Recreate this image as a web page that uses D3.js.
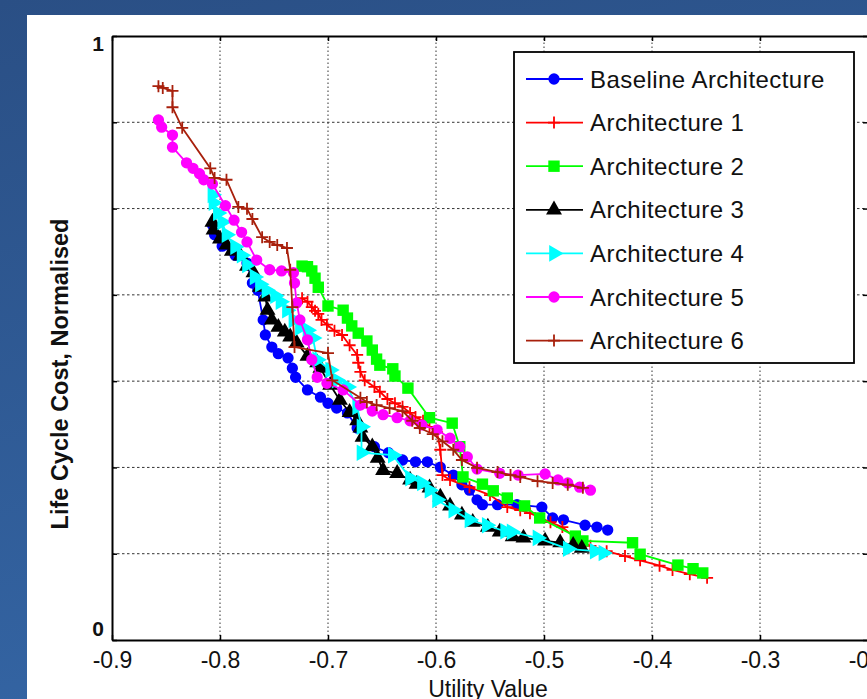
<!DOCTYPE html>
<html><head><meta charset="utf-8">
<script src="https://cdn.jsdelivr.net/npm/d3@7"></script>
<style>html,body{margin:0;padding:0;overflow:hidden;background:#2e5a92}</style>
</head><body>
<script>
// ---- data ----
const xTicks = [-0.9,-0.8,-0.7,-0.6,-0.5,-0.4,-0.3,-0.2];
const yTicks = [0,1/7,2/7,3/7,4/7,5/7,6/7,1];
const yTickLabels = ["0","","","","","","","1"];
const seriesNames = ["Baseline Architecture","Architecture 1","Architecture 2","Architecture 3","Architecture 4","Architecture 5","Architecture 6"];

const baselineX = [-0.807,-0.805,-0.798,-0.786,-0.775,-0.770,-0.765,-0.760,-0.758,-0.752,-0.746,-0.737,-0.733,-0.730,-0.719,-0.707,-0.700,-0.692,-0.682,-0.673,-0.657,-0.644,-0.631,-0.619,-0.608,-0.596,-0.584,-0.576,-0.569,-0.562,-0.557,-0.543,-0.525,-0.502,-0.492,-0.482,-0.462,-0.451,-0.441];
const baselineY = [0.687,0.671,0.652,0.637,0.624,0.591,0.579,0.530,0.505,0.485,0.474,0.467,0.450,0.435,0.414,0.402,0.392,0.384,0.376,0.351,0.320,0.310,0.298,0.295,0.295,0.286,0.273,0.257,0.248,0.232,0.224,0.224,0.224,0.220,0.202,0.199,0.190,0.187,0.182];

const arch1X = [-0.724,-0.719,-0.715,-0.712,-0.709,-0.706,-0.701,-0.694,-0.687,-0.680,-0.673,-0.672,-0.670,-0.666,-0.657,-0.652,-0.645,-0.638,-0.631,-0.624,-0.619,-0.612,-0.606,-0.599,-0.596,-0.594,-0.587,-0.569,-0.550,-0.534,-0.522,-0.513,-0.494,-0.483,-0.469,-0.457,-0.442,-0.425,-0.411,-0.393,-0.381,-0.365,-0.349];
const arch1Y = [0.566,0.560,0.551,0.545,0.540,0.530,0.522,0.512,0.505,0.488,0.472,0.459,0.444,0.430,0.419,0.411,0.399,0.392,0.386,0.376,0.369,0.363,0.353,0.344,0.315,0.273,0.265,0.253,0.240,0.220,0.215,0.210,0.195,0.187,0.166,0.156,0.147,0.139,0.132,0.123,0.116,0.109,0.103];

const arch2X = [-0.724,-0.719,-0.715,-0.712,-0.709,-0.700,-0.686,-0.682,-0.678,-0.672,-0.664,-0.659,-0.655,-0.652,-0.640,-0.638,-0.626,-0.606,-0.585,-0.578,-0.575,-0.557,-0.547,-0.534,-0.518,-0.504,-0.471,-0.464,-0.418,-0.411,-0.376,-0.362,-0.353];
const arch2Y = [0.619,0.618,0.611,0.599,0.584,0.553,0.546,0.533,0.520,0.508,0.495,0.480,0.465,0.455,0.449,0.437,0.417,0.368,0.359,0.320,0.270,0.258,0.247,0.235,0.222,0.202,0.172,0.164,0.161,0.142,0.124,0.118,0.111];

const arch3X = [-0.807,-0.806,-0.800,-0.794,-0.789,-0.781,-0.775,-0.769,-0.763,-0.758,-0.756,-0.752,-0.746,-0.740,-0.735,-0.729,-0.719,-0.710,-0.707,-0.698,-0.689,-0.680,-0.673,-0.670,-0.668,-0.659,-0.654,-0.649,-0.636,-0.624,-0.618,-0.606,-0.596,-0.587,-0.576,-0.566,-0.552,-0.541,-0.529,-0.519,-0.499,-0.485,-0.473,-0.465];
const arch3Y = [0.692,0.679,0.664,0.654,0.644,0.636,0.619,0.608,0.584,0.568,0.546,0.530,0.518,0.510,0.502,0.492,0.470,0.459,0.450,0.422,0.397,0.377,0.363,0.351,0.336,0.320,0.301,0.281,0.276,0.265,0.258,0.252,0.237,0.222,0.207,0.195,0.187,0.179,0.171,0.169,0.164,0.161,0.157,0.152];

const arch4X = [-0.807,-0.806,-0.802,-0.798,-0.794,-0.786,-0.780,-0.775,-0.768,-0.763,-0.757,-0.749,-0.744,-0.738,-0.732,-0.726,-0.719,-0.714,-0.710,-0.698,-0.692,-0.682,-0.673,-0.669,-0.669,-0.640,-0.624,-0.613,-0.606,-0.599,-0.584,-0.569,-0.553,-0.536,-0.530,-0.506,-0.478,-0.453,-0.445];
const arch4Y = [0.737,0.724,0.707,0.692,0.671,0.651,0.637,0.621,0.601,0.589,0.579,0.570,0.560,0.546,0.530,0.517,0.513,0.500,0.464,0.447,0.430,0.419,0.386,0.353,0.310,0.306,0.268,0.260,0.248,0.232,0.215,0.199,0.190,0.180,0.179,0.169,0.151,0.147,0.144];

const arch5X = [-0.857,-0.854,-0.844,-0.844,-0.831,-0.825,-0.819,-0.815,-0.807,-0.795,-0.787,-0.780,-0.775,-0.766,-0.754,-0.743,-0.732,-0.731,-0.729,-0.726,-0.719,-0.715,-0.710,-0.701,-0.686,-0.670,-0.659,-0.649,-0.636,-0.624,-0.613,-0.599,-0.587,-0.578,-0.571,-0.562,-0.541,-0.524,-0.499,-0.487,-0.478,-0.467,-0.457];
const arch5Y = [0.861,0.849,0.836,0.816,0.790,0.781,0.772,0.762,0.755,0.719,0.695,0.675,0.659,0.629,0.613,0.611,0.608,0.591,0.558,0.530,0.497,0.464,0.435,0.425,0.414,0.389,0.379,0.373,0.368,0.363,0.356,0.348,0.334,0.320,0.303,0.283,0.276,0.273,0.275,0.265,0.260,0.253,0.248];

const arch6X = [-0.857,-0.853,-0.844,-0.844,-0.835,-0.809,-0.805,-0.794,-0.783,-0.775,-0.770,-0.761,-0.754,-0.747,-0.738,-0.735,-0.733,-0.731,-0.700,-0.696,-0.670,-0.664,-0.655,-0.643,-0.631,-0.622,-0.615,-0.603,-0.594,-0.584,-0.576,-0.562,-0.543,-0.531,-0.522,-0.506,-0.492,-0.478,-0.464];
const arch6Y = [0.917,0.914,0.909,0.882,0.848,0.781,0.765,0.762,0.717,0.714,0.697,0.667,0.659,0.654,0.649,0.613,0.551,0.485,0.475,0.430,0.401,0.394,0.389,0.384,0.379,0.363,0.351,0.341,0.329,0.315,0.298,0.285,0.278,0.273,0.270,0.263,0.260,0.257,0.252];

const seriesX = [baselineX, arch1X, arch2X, arch3X, arch4X, arch5X, arch6X];
const seriesY = [baselineY, arch1Y, arch2Y, arch3Y, arch4Y, arch5Y, arch6Y];
const seriesColors = ["#0000ff","#ff0000","#00ff00","#000000","#00ffff","#ff00ff","#a8200c"];
const seriesMarkers = ["circle","plus","square","triangleUp","triangleRight","circle","plus"];

// ---- drawing ----
const W = 867, H = 699;
const svg = d3.select("body").append("svg").attr("width", W).attr("height", H)
  .style("display","block");

const defs = svg.append("defs");
const grad = defs.append("linearGradient").attr("id","bg").attr("x1","0").attr("y1","0").attr("x2","0.3").attr("y2","1");
grad.append("stop").attr("offset","0").attr("stop-color","#2a4f85");
grad.append("stop").attr("offset","1").attr("stop-color","#3465a4");
svg.append("rect").attr("width",W).attr("height",H).attr("fill","url(#bg)");
// white panel
svg.append("rect").attr("x",27).attr("y",15).attr("width",W-27).attr("height",H-15).attr("fill","#ffffff");

const font = "'Liberation Sans', Arial, sans-serif";
const x = d3.scaleLinear().domain([-0.9,-0.2]).range([112, 868]);
const y = d3.scaleLinear().domain([0,1]).range([640, 36]);

// grid
const grid = svg.append("g");
grid.selectAll("line.vg").data(xTicks.slice(1,-1)).join("line")
  .attr("x1",d=>x(d)).attr("x2",d=>x(d)).attr("y1",y(0)).attr("y2",y(1))
  .attr("stroke","#333").attr("stroke-width",1).attr("stroke-dasharray","1.5,2.5");
grid.selectAll("line.hg").data(yTicks.slice(1,-1)).join("line")
  .attr("x1",x(-0.9)).attr("x2",x(-0.2)).attr("y1",d=>y(d)).attr("y2",d=>y(d))
  .attr("stroke","#333").attr("stroke-width",1).attr("stroke-dasharray","2.5,2.5");

// axes
const fmt = d => d.toFixed(1).replace("\u2212","-");
const xAxis = svg.append("g").attr("transform",`translate(0,${y(0)})`)
  .call(d3.axisBottom(x).tickValues(xTicks).tickSizeInner(-5).tickSizeOuter(0).tickPadding(12).tickFormat(fmt));
const xAxisTop = svg.append("g").attr("transform",`translate(0,${y(1)})`)
  .call(d3.axisTop(x).tickValues(xTicks).tickSizeInner(-5).tickSizeOuter(0).tickFormat(""));
const yAxis = svg.append("g").attr("transform",`translate(${x(-0.9)},0)`)
  .call(d3.axisLeft(y).tickValues(yTicks).tickSizeInner(-5).tickSizeOuter(0).tickPadding(8).tickFormat((d,i)=>yTickLabels[i]));
const yAxisRight = svg.append("g").attr("transform",`translate(${x(-0.2)},0)`)
  .call(d3.axisRight(y).tickValues(yTicks).tickSizeInner(-5).tickSizeOuter(0).tickFormat(""));
[xAxis,xAxisTop,yAxis,yAxisRight].forEach(g=>{
  g.select(".domain").attr("stroke","#000").attr("stroke-width",2);
  g.selectAll(".tick line").attr("stroke","#000").attr("stroke-width",1.5);
});
xAxis.selectAll(".tick text").attr("font-family",font).attr("font-size",23).attr("fill","#111");
yAxis.selectAll(".tick text").attr("font-family",font).attr("font-size",21).attr("font-weight","bold").attr("fill","#111")
  .attr("dy",(d,i)=> i===0 ? "-5px" : (i===yTicks.length-1 ? "14px" : "0.32em"));

// axis labels
svg.append("text").attr("x",488).attr("y",697).attr("text-anchor","middle")
  .attr("font-family",font).attr("font-size",23).attr("fill","#111").text("Utility Value");
svg.append("text").attr("transform",`translate(68,374) rotate(-90)`).attr("text-anchor","middle")
  .attr("font-family",font).attr("font-size",23.5).attr("font-weight","bold").attr("fill","#111")
  .text("Life Cycle Cost, Normalised");

// marker drawing
function drawMarker(sel, type, color) {
  if (type === "plus") {
    sel.append("path").attr("d","M-6,0H6M0,-6V6").attr("stroke",color).attr("stroke-width",1.8).attr("fill","none");
  } else if (type === "circle") {
    sel.append("path").attr("d", d3.symbol(d3.symbolCircle, 100)()).attr("fill",color);
  } else if (type === "square") {
    sel.append("path").attr("d", d3.symbol(d3.symbolSquare, 130)()).attr("fill",color);
  } else if (type === "triangleUp") {
    sel.append("path").attr("d", d3.symbol(d3.symbolTriangle, 110)()).attr("fill",color);
  } else if (type === "triangleRight") {
    sel.append("path").attr("d", d3.symbol(d3.symbolTriangle, 120)()).attr("transform","rotate(90)").attr("fill",color);
  }
}

const line = d3.line().x(d=>x(d[0])).y(d=>y(d[1]));
seriesX.forEach((xs, si) => {
  const pts = xs.map((v,i)=>[v, seriesY[si][i]]);
  const g = svg.append("g");
  g.append("path").datum(pts).attr("d", line).attr("fill","none")
    .attr("stroke", seriesColors[si]).attr("stroke-width", 1.8);
  g.selectAll("g.m").data(pts).join("g").attr("transform", d=>`translate(${x(d[0])},${y(d[1])})`)
    .each(function(){ drawMarker(d3.select(this), seriesMarkers[si], seriesColors[si]); });
});

// legend
const lg = svg.append("g");
lg.append("rect").attr("x",514).attr("y",52).attr("width",340).attr("height",311)
  .attr("fill","#fff").attr("stroke","#000").attr("stroke-width",1.8);
seriesNames.forEach((name, i) => {
  const yy = 79 + i*43.6;
  lg.append("line").attr("x1",526).attr("x2",583).attr("y1",yy).attr("y2",yy)
    .attr("stroke",seriesColors[i]).attr("stroke-width",1.8);
  const m = lg.append("g").attr("transform",`translate(554,${yy})`);
  drawMarker(m, seriesMarkers[i], seriesColors[i]);
  lg.append("text").attr("x",590).attr("y",yy+8.5).attr("font-family",font).attr("font-size",24)
    .attr("letter-spacing","0.45px").attr("fill","#111").text(name);
});
</script>
</body></html>
